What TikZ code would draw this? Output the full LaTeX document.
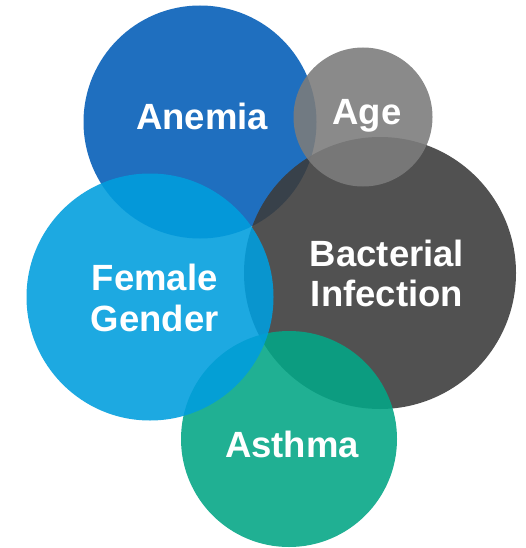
\documentclass[tikz,border=0pt]{standalone}
\usepackage{fontspec}
\setmainfont{Liberation Sans}
\usetikzlibrary{positioning}
\definecolor{AnemiaBlue}{RGB}{3,93,183}
\definecolor{AgeGrey}{RGB}{124,124,124}
\definecolor{InfectGrey}{RGB}{60,60,60}
\definecolor{GenderBlue}{RGB}{1,158,221}
\definecolor{AsthmaTeal}{RGB}{4,166,134}

\begin{document}
\begin{tikzpicture}[
            x=1pt, y=-1pt,
            bubble/.style={
                circle,
                draw=none,
                inner sep=0pt,
                fill opacity=0.89
            },
            bubbletext/.style={
                text=white,
                align=center,
                inner sep=0pt,
                font=\fontsize{36.5}{40.5}\selectfont\bfseries
            }
        ]
            \useasboundingbox (0,0) rectangle (526,548);

            % circles, back to front
            \node[bubble, fill=AnemiaBlue, minimum size=233pt] (anemia) at (200,122) {};
            \node[bubble, fill=InfectGrey, minimum size=272pt] (infection) at (380,273) {};
            \node[bubble, fill=AsthmaTeal, minimum size=216pt] (asthma) at (289,439) {};
            \node[bubble, fill=AgeGrey, minimum size=139pt] (age) at (363,117) {};
            \node[bubble, fill=GenderBlue, minimum size=247pt] (gender) at (150,297) {};

            % labels
            \node[bubbletext, anchor=base] (anemiatxt) at (202,130) {Anemia};
            \node[bubbletext, anchor=base] (agetxt) at (367,125) {Age};
            \node[bubbletext] (infectiontxt) at (387,273.5) {Bacterial\\Infection};
            \node[bubbletext] (gendertxt) at (154.6,298) {Female\\Gender};
            \node[bubbletext, anchor=base] (asthmatxt) at (292,457) {Asthma};
        \end{tikzpicture}
\end{document}
